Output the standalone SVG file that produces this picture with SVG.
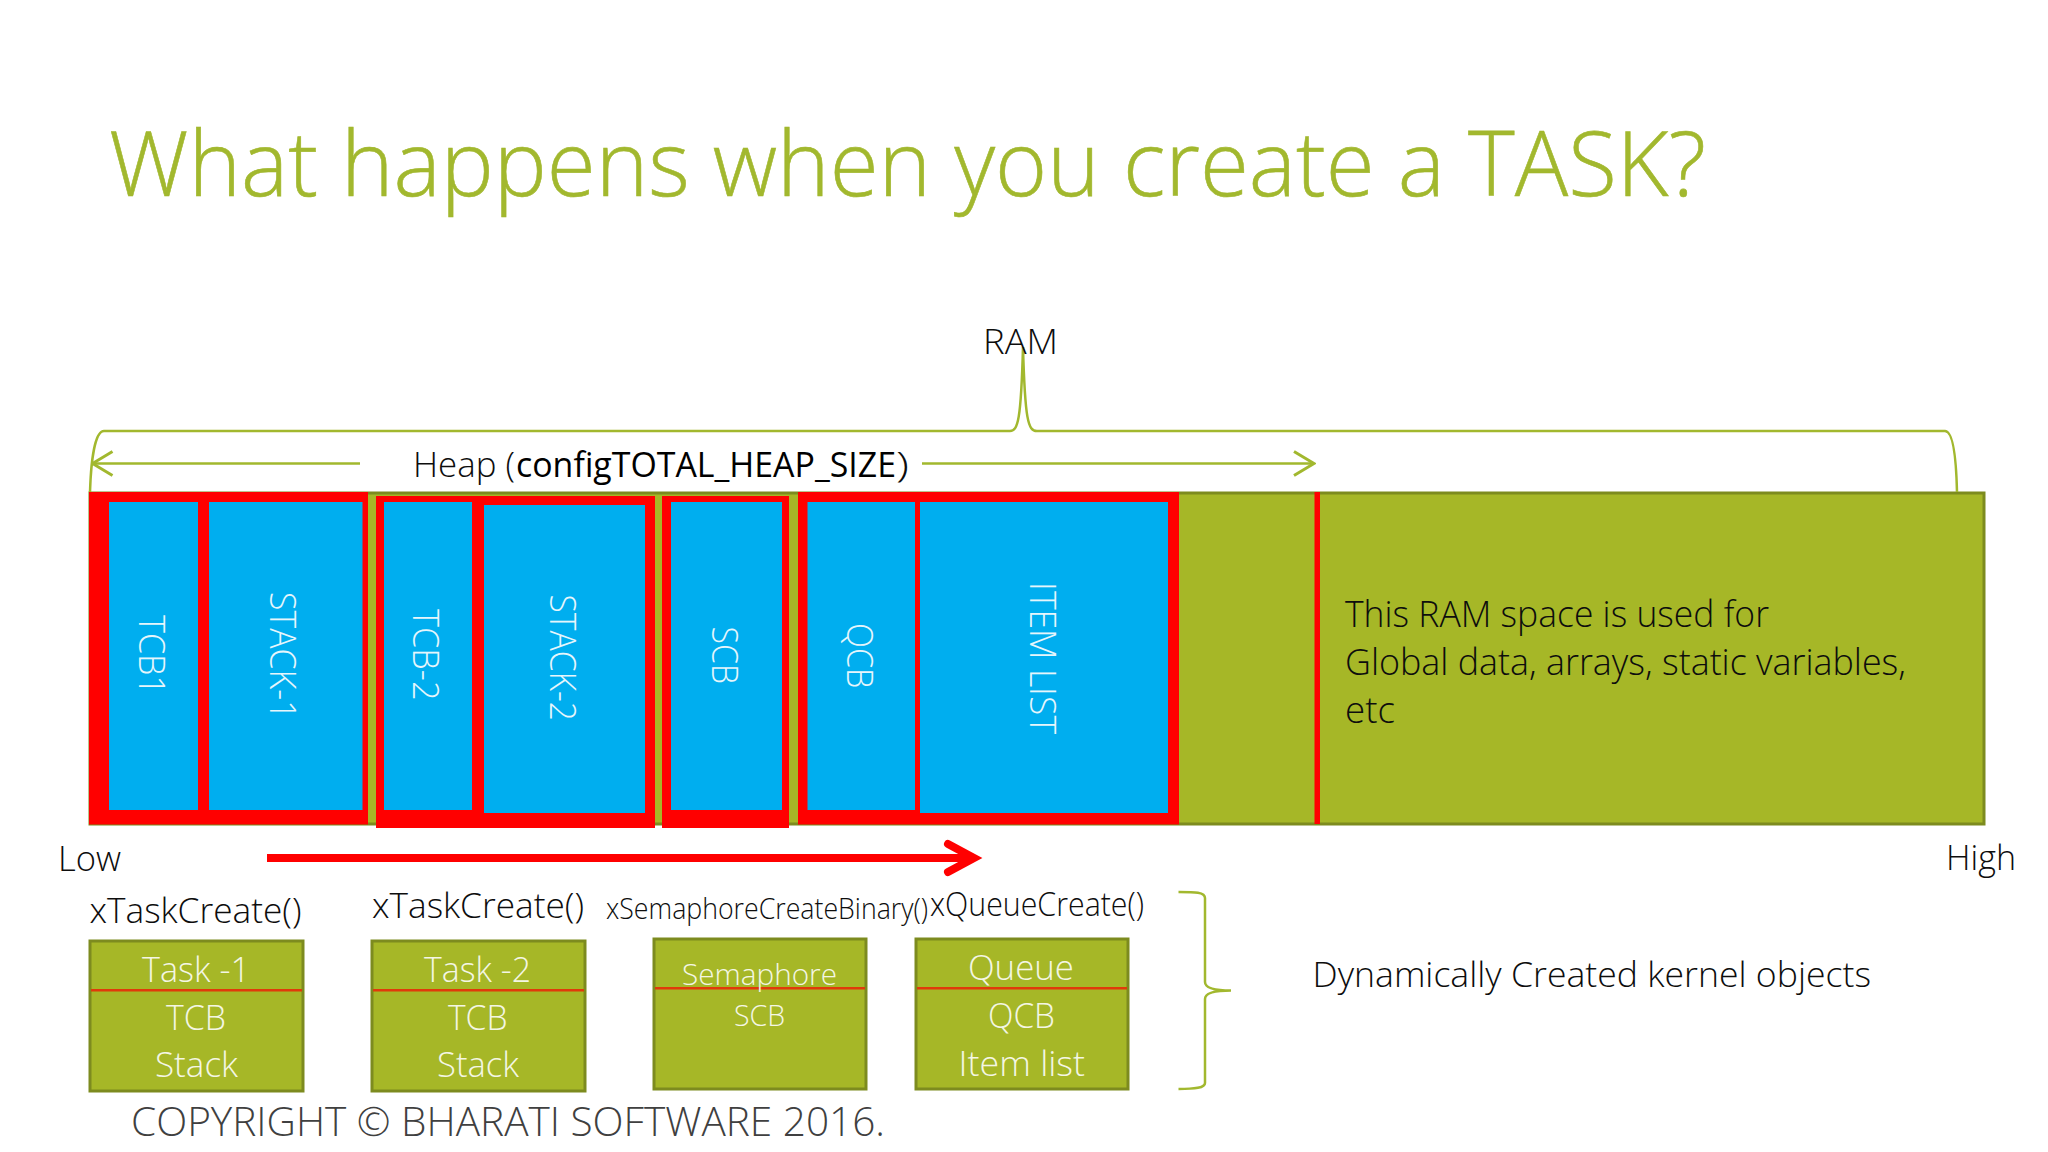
<svg xmlns="http://www.w3.org/2000/svg" width="2048" height="1152" viewBox="0 0 2048 1152">
<style>
text{font-family:"Open Sans","Liberation Sans",sans-serif;font-weight:300;fill:#0d0d0d}
.title{font-size:91px;fill:#a2b82e}
.w{fill:#f4f6e4}
.v{fill:#e6f6fc;font-size:37px}
.b{font-size:37px}
.s{font-size:35px}
.red{fill:#ff0000}
.blue{fill:#00aeef}
.bar{fill:#a6b727;stroke:#7d8b1f;stroke-width:3}
.line{fill:none;stroke:#a2b82e;stroke-width:2.5}
</style>
<defs>
<marker id="open" viewBox="0 0 24 28" refX="22" refY="14" markerWidth="24" markerHeight="28" markerUnits="userSpaceOnUse" orient="auto-start-reverse"><path d="M2 2 L22 14 L2 26" fill="none" stroke="#a2b82e" stroke-width="3"/></marker>
</defs>
<rect width="2048" height="1152" fill="#ffffff"/>
<text id="title" class="title" x="109" y="196" textLength="1597" lengthAdjust="spacingAndGlyphs" style="stroke:#a2b82e;stroke-width:0.6">What happens when you create a TASK?</text>
<g id="ram-bar">
<rect class="bar" x="90" y="493" width="1894" height="331"/>
<rect class="red" x="1314.500" y="492" width="5.500" height="332"/>
</g>
<g id="task1-block">
<rect class="red" x="89" y="492" width="279" height="332.500"/>
<rect class="blue" x="109" y="502" width="89" height="308"/>
<rect class="blue" x="209" y="502" width="153.500" height="308"/>
<text class="v" transform="translate(139 615) rotate(90)" textLength="80" lengthAdjust="spacingAndGlyphs">TCB1</text>
<text class="v" transform="translate(270 592) rotate(90)" textLength="127.500" lengthAdjust="spacingAndGlyphs">STACK-1</text>
</g>
<g id="task2-block">
<rect class="red" x="376" y="496" width="279" height="332"/>
<rect class="blue" x="384" y="502" width="88" height="308"/>
<rect class="blue" x="484" y="505" width="161" height="308"/>
<text class="v" transform="translate(413 609) rotate(90)" textLength="91.500" lengthAdjust="spacingAndGlyphs">TCB-2</text>
<text class="v" transform="translate(550 594.500) rotate(90)" textLength="126.500" lengthAdjust="spacingAndGlyphs">STACK-2</text>
</g>
<g id="semaphore-block">
<rect class="red" x="662" y="496" width="127" height="332"/>
<rect class="blue" x="671" y="502" width="111" height="308"/>
<text class="v" transform="translate(712 626.500) rotate(90)" textLength="57.500" lengthAdjust="spacingAndGlyphs">SCB</text>
</g>
<g id="queue-block">
<rect class="red" x="798" y="492" width="381" height="332.500"/>
<rect class="blue" x="807.500" y="502" width="107.500" height="308"/>
<rect class="blue" x="920" y="502" width="248" height="311"/>
<text class="v" transform="translate(847 623) rotate(90)" textLength="65.500" lengthAdjust="spacingAndGlyphs">QCB</text>
<text class="v" transform="translate(1030 582) rotate(90)" textLength="152" lengthAdjust="spacingAndGlyphs">ITEM LIST</text>
</g>
<g id="connectors">
<path class="line" d="M90 492 C91 460 95 431 104 431 L1010 431 C1018 431 1021 420 1023 347 C1025 420 1028 431 1037 431 L1945 431 C1952 431 1956 450 1957 492"/>
<path class="line" d="M1178.500 892 C1195 892 1205 892 1205 898 L1205 982 C1205 988 1215 990.500 1231 990.500 C1215 990.500 1205 993 1205 999 L1205 1083 C1205 1088 1195 1089 1178.500 1089"/>
<line class="line" x1="360" y1="463.500" x2="92.500" y2="463.500" marker-end="url(#open)"/>
<line class="line" x1="922" y1="463.500" x2="1314" y2="463.500" marker-end="url(#open)"/>
<path d="M267 858 L972 858" fill="none" stroke="#ff0000" stroke-width="8"/>
<path d="M948 844 L974 858 L948 872" fill="none" stroke="#ff0000" stroke-width="8" stroke-linecap="round" stroke-linejoin="miter"/>
</g>
<g id="labels">
<text class="s" x="983" y="354" textLength="75" lengthAdjust="spacingAndGlyphs">RAM</text>
<text class="s" x="413" y="477" textLength="102" lengthAdjust="spacingAndGlyphs">Heap (</text>
<text class="s" x="516" y="477" textLength="380" lengthAdjust="spacingAndGlyphs" style="font-weight:400;fill:#000">configTOTAL_HEAP_SIZE</text>
<text class="s" x="896" y="477" textLength="13" lengthAdjust="spacingAndGlyphs">)</text>
<text class="s" x="58" y="871" textLength="63" lengthAdjust="spacingAndGlyphs">Low</text>
<text class="s" x="1946" y="870" textLength="70" lengthAdjust="spacingAndGlyphs">High</text>
<text class="b" x="1345" y="627" textLength="424" lengthAdjust="spacingAndGlyphs">This RAM space is used for</text>
<text class="b" x="1345" y="675" textLength="561" lengthAdjust="spacingAndGlyphs">Global data, arrays, static variables,</text>
<text class="b" x="1345" y="723" textLength="50" lengthAdjust="spacingAndGlyphs">etc</text>
<text class="s" x="1312.500" y="987" textLength="558.500" lengthAdjust="spacingAndGlyphs">Dynamically Created kernel objects</text>
<text x="131" y="1136" font-size="40" style="fill:#404040" textLength="754" lengthAdjust="spacingAndGlyphs">COPYRIGHT © BHARATI SOFTWARE 2016.</text>
</g>
<g id="task1-object">
<text class="s" x="89.500" y="923" textLength="212" lengthAdjust="spacingAndGlyphs">xTaskCreate()</text>
<rect class="bar" x="90" y="941" width="213" height="150"/>
<rect x="91" y="989" width="211" height="2.500" fill="#e03a0a"/>
<text class="s w" x="142" y="982" textLength="108" lengthAdjust="spacingAndGlyphs">Task -1</text>
<text class="s w" x="166" y="1030" textLength="60" lengthAdjust="spacingAndGlyphs">TCB</text>
<text class="s w" x="155" y="1077" textLength="83" lengthAdjust="spacingAndGlyphs">Stack</text>
</g>
<g id="task2-object">
<text class="s" x="372" y="918" textLength="212" lengthAdjust="spacingAndGlyphs">xTaskCreate()</text>
<rect class="bar" x="372" y="941" width="213" height="150"/>
<rect x="373" y="989" width="211" height="2.500" fill="#e03a0a"/>
<text class="s w" x="424" y="982" textLength="107" lengthAdjust="spacingAndGlyphs">Task -2</text>
<text class="s w" x="448" y="1030" textLength="59.500" lengthAdjust="spacingAndGlyphs">TCB</text>
<text class="s w" x="437" y="1077" textLength="82" lengthAdjust="spacingAndGlyphs">Stack</text>
</g>
<g id="semaphore-object">
<text x="606" y="919" font-size="29" textLength="322" lengthAdjust="spacingAndGlyphs">xSemaphoreCreateBinary()</text>
<rect class="bar" x="654" y="939" width="212" height="150"/>
<rect x="655" y="987" width="210" height="2.500" fill="#e03a0a"/>
<text class="w" x="682" y="985" font-size="30" textLength="155" lengthAdjust="spacingAndGlyphs">Semaphore</text>
<text class="w" x="734" y="1026" font-size="30" textLength="51" lengthAdjust="spacingAndGlyphs">SCB</text>
</g>
<g id="queue-object">
<text x="930" y="916" font-size="33" textLength="214" lengthAdjust="spacingAndGlyphs">xQueueCreate()</text>
<rect class="bar" x="916" y="939" width="212" height="150"/>
<rect x="917" y="987" width="210" height="2.500" fill="#e03a0a"/>
<text class="s w" x="968" y="980" textLength="106" lengthAdjust="spacingAndGlyphs">Queue</text>
<text class="s w" x="988" y="1028" textLength="67" lengthAdjust="spacingAndGlyphs">QCB</text>
<text class="s w" x="958.500" y="1076" textLength="126.500" lengthAdjust="spacingAndGlyphs">Item list</text>
</g>
</svg>
